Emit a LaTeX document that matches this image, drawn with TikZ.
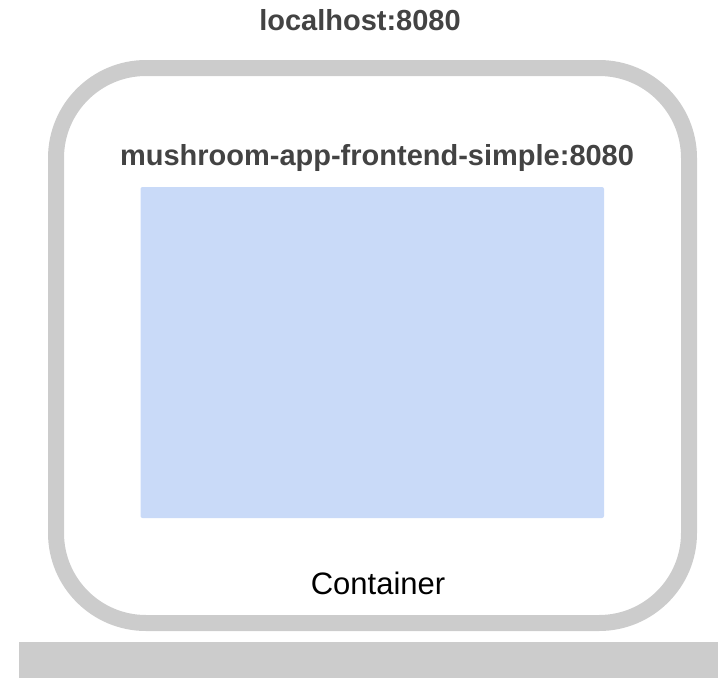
\documentclass[tikz,border=0pt]{standalone}
\usepackage{fontspec}
\setmainfont{Liberation Sans}
\definecolor{framegray}{HTML}{CCCCCC}
\definecolor{appblue}{HTML}{C9DAF8}
\definecolor{labelgray}{HTML}{434343}
\begin{document}
\begin{tikzpicture}[x=1pt,y=1pt,
  title/.style={font=\fontsize{29}{34}\selectfont\bfseries, text=labelgray, anchor=base, inner sep=0pt},
  plain/.style={font=\fontsize{31}{36}\selectfont, text=black, anchor=base, inner sep=0pt}]
  \useasboundingbox (0,0) rectangle (718,-678);
  % host port label
  \node[title] (host) at (360,-30.7) {localhost:8080};
  % container outline
  \draw[framegray, line width=16pt, rounded corners=90pt] (56,-68) rectangle (689,-623);
  \coordinate (container) at (372.5,-345.5);
  % application inside the container
  \node[title] (app) at (377,-165.7) {mushroom-app-frontend-simple:8080};
  \fill[appblue, rounded corners=2pt] (140.5,-187) rectangle (604,-518);
  \node[plain] (ctr) at (378,-594) {Container};
  % host ground bar
  \fill[framegray] (19,-642) rectangle (718,-678);
\end{tikzpicture}
\end{document}
